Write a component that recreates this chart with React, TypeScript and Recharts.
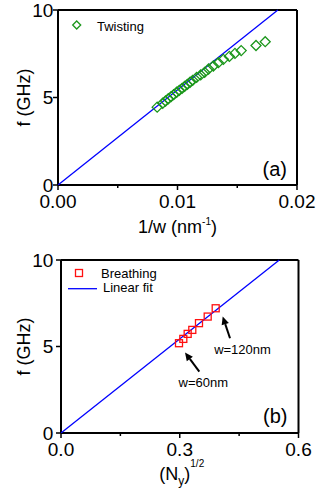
import React from 'react';
import { ScatterChart, Scatter, XAxis, YAxis, ReferenceLine, Legend } from 'recharts';

const FONT = '"Liberation Sans", Arial, Helvetica, sans-serif';
const GREEN = '#1a961a';
const RED = '#ff1010';
const BLUE = '#0000ff';

// panel (a): twisting mode, f vs 1/w
const twistInvW = [
  0.0083, 0.00876, 0.009, 0.00923, 0.00946, 0.00968, 0.00993, 0.01015, 0.01038, 0.0106, 0.01082,
  0.01105, 0.01127, 0.0116, 0.01194, 0.01227, 0.0126, 0.013, 0.01342, 0.01384, 0.01434, 0.01481,
  0.01533, 0.01657, 0.01734,
];
const twistFreq = [
  4.45, 4.67, 4.8, 4.93, 5.05, 5.16, 5.3, 5.41, 5.52, 5.64, 5.75, 5.87, 5.98, 6.15, 6.29, 6.44,
  6.63, 6.8, 6.99, 7.18, 7.35, 7.52, 7.68, 7.97, 8.19,
];
const fitAx = [0, 0.0184];
const fitAy = [0, 10];

// panel (b): breathing mode, f vs sqrt(Ny)
const breathSqrtNy = [0.2981, 0.309, 0.32, 0.3317, 0.3486, 0.3706, 0.3908];
const breathFreq = [5.19, 5.44, 5.73, 5.96, 6.35, 6.73, 7.21];
const fitBx = [0, 0.5515];
const fitBy = [0, 10];

const ticksA = [0, 0.005, 0.01, 0.015, 0.02];
const labelsA = [0, 0.01, 0.02];
const ticksB = [0, 0.15, 0.3, 0.45, 0.6];
const labelsB = [0, 0.3, 0.6];
const fTicks = [0, 2.5, 5, 7.5, 10];
const fLabels = [0, 5, 10];

const arrowsB = [
  { tail: { x: 0.3494, y: 3.55 }, head: { x: 0.3133, y: 4.65 }, text: 'w=60nm', dx: 4, dy: 15 },
  { tail: { x: 0.427, y: 5.48 }, head: { x: 0.4085, y: 6.73 }, text: 'w=120nm', dx: 12.5, dy: 15.7 },
];

const toPts = (xs: number[], ys: number[]) => xs.map((x, i) => ({ x, y: ys[i] }));

type Side = 'bottom' | 'left' | 'top' | 'right';

const tickRenderer = (side: Side, labels: number[], digits: number, gap = 5) => (props: any) => {
  const { x, y, payload } = props;
  const v = payload.value;
  const major = labels.includes(v);
  const len = major ? 5 : 3;
  const txt = { fontFamily: FONT, fontSize: 19, fill: '#000' };
  if (side === 'bottom') {
    return (
      <g>
        <line x1={x} y1={y} x2={x} y2={y + len} stroke="#000" strokeWidth={1.5} />
        {major && (
          <text x={x} y={y + 22.5} textAnchor="middle" {...txt}>
            {v.toFixed(digits)}
          </text>
        )}
      </g>
    );
  }
  if (side === 'left') {
    return (
      <g>
        <line x1={x} y1={y} x2={x - len} y2={y} stroke="#000" strokeWidth={1.5} />
        {major && (
          <text x={x - gap} y={y + 6.5} textAnchor="end" {...txt}>
            {v.toFixed(digits)}
          </text>
        )}
      </g>
    );
  }
  if (side === 'top') {
    return <line x1={x} y1={y} x2={x} y2={y + len} stroke="#000" strokeWidth={1.5} />;
  }
  return <line x1={x} y1={y} x2={x - len} y2={y} stroke="#000" strokeWidth={1.5} />;
};

const Diamond = (p: any) => (
  <path
    d={`M${p.cx},${p.cy - 5}L${p.cx + 5},${p.cy}L${p.cx},${p.cy + 5}L${p.cx - 5},${p.cy}Z`}
    fill="none"
    stroke={GREEN}
    strokeWidth={1.3}
  />
);

const Square = (p: any) => (
  <rect x={p.cx - 3.5} y={p.cy - 3.5} width={7} height={7} fill="none" stroke={RED} strokeWidth={1.3} />
);

const NoDot = () => <g />;

const yTitle = (props: any) => {
  const { viewBox } = props;
  const cy = viewBox.y + viewBox.height / 2;
  return (
    <text x={30} y={cy} transform={`rotate(-90 30 ${cy})`} textAnchor="middle" fontFamily={FONT} fontSize={18}>
      f (GHz)
    </text>
  );
};

const panelTag = (tag: string, dx: number, dy: number) => (props: any) => {
  const { viewBox } = props;
  return (
    <text x={viewBox.x - dx} y={viewBox.y + viewBox.height - dy} textAnchor="end" fontFamily={FONT} fontSize={20}>
      {tag}
    </text>
  );
};

const arrowShape = (text: string, dx: number, dy: number) => (p: any) => {
  const { x1, y1, x2, y2 } = p;
  const a = Math.atan2(y2 - y1, x2 - x1);
  const c = Math.cos(a);
  const s = Math.sin(a);
  const bx = x2 - 8 * c;
  const by = y2 - 8 * s;
  return (
    <g>
      <line x1={x1} y1={y1} x2={bx} y2={by} stroke="#000" strokeWidth={2} />
      <polygon points={`${x2},${y2} ${bx - 3.8 * s},${by + 3.8 * c} ${bx + 3.8 * s},${by - 3.8 * c}`} fill="#000" />
      <text x={x1 + dx} y={y1 + dy} textAnchor="middle" fontFamily={FONT} fontSize={13}>
        {text}
      </text>
    </g>
  );
};

const frame = { stroke: '#000', strokeWidth: 2 };

const PanelA = () => (
  <ScatterChart width={327} height={250} margin={{ top: 9, right: 29, bottom: 64, left: 57 }}>
    <XAxis
      dataKey="x"
      type="number"
      domain={[0, 0.02]}
      ticks={ticksA}
      interval={0}
      height={1}
      tickSize={0}
      tickMargin={0}
      tickLine={false}
      axisLine={frame}
      tick={tickRenderer('bottom', labelsA, 2)}
      label={(props: any) => {
        const { viewBox } = props;
        return (
          <text x={viewBox.x + viewBox.width / 2} y={viewBox.y + 48} textAnchor="middle" fontFamily={FONT} fontSize={18}>
            1/w (nm
            <tspan fontSize={10} dy={-8}>-1</tspan>
            <tspan dy={8}>)</tspan>
          </text>
        );
      }}
    />
    <XAxis
      xAxisId="top"
      orientation="top"
      type="number"
      domain={[0, 0.02]}
      ticks={ticksA}
      interval={0}
      height={1}
      tickSize={0}
      tickMargin={0}
      tickLine={false}
      axisLine={frame}
      tick={tickRenderer('top', labelsA, 2)}
    />
    <YAxis
      dataKey="y"
      type="number"
      domain={[0, 10]}
      ticks={fLabels}
      interval={0}
      width={1}
      tickSize={0}
      tickMargin={0}
      tickLine={false}
      axisLine={frame}
      tick={tickRenderer('left', fLabels, 0, 4.7)}
      label={yTitle}
    />
    <YAxis
      yAxisId="right"
      orientation="right"
      type="number"
      domain={[0, 10]}
      ticks={fTicks}
      interval={0}
      width={1}
      tickSize={0}
      tickMargin={0}
      tickLine={false}
      axisLine={frame}
      tick={tickRenderer('right', fLabels, 0)}
      label={panelTag('(a)', 10, 9)}
    />
    <Scatter data={toPts(fitAx, fitAy)} line={{ stroke: BLUE, strokeWidth: 1.3 }} shape={NoDot} isAnimationActive={false} />
    <Scatter data={toPts(twistInvW, twistFreq)} shape={Diamond} isAnimationActive={false} />
    <Legend
      verticalAlign="middle"
      wrapperStyle={{ left: 0, top: 0, width: 200, height: 40 }}
      content={() => (
        <svg width={200} height={40} style={{ display: 'block' }}>
          <path d="M76.7,21L80.7,25L76.7,29L72.7,25Z" fill="none" stroke={GREEN} strokeWidth={1.3} />
          <text x={97} y={30.5} fontFamily={FONT} fontSize={13}>
            Twisting
          </text>
        </svg>
      )}
    />
  </ScatterChart>
);

const PanelB = () => (
  <ScatterChart width={327} height={249} margin={{ top: 9, right: 27.5, bottom: 65, left: 60 }}>
    <XAxis
      dataKey="x"
      type="number"
      domain={[0, 0.6]}
      ticks={ticksB}
      interval={0}
      height={1}
      tickSize={0}
      tickMargin={0}
      tickLine={false}
      axisLine={frame}
      tick={tickRenderer('bottom', labelsB, 1)}
      label={(props: any) => {
        const { viewBox } = props;
        return (
          <text x={viewBox.x + viewBox.width / 2 + 2} y={viewBox.y + 47} textAnchor="middle" fontFamily={FONT} fontSize={18}>
            (N
            <tspan fontSize={12} dy={5}>y</tspan>
            <tspan dy={-5}>)</tspan>
            <tspan fontSize={10} dy={-13}>1/2</tspan>
          </text>
        );
      }}
    />
    <XAxis
      xAxisId="top"
      orientation="top"
      type="number"
      domain={[0, 0.6]}
      ticks={ticksB}
      interval={0}
      height={1}
      tickSize={0}
      tickMargin={0}
      tickLine={false}
      axisLine={frame}
      tick={tickRenderer('top', labelsB, 1)}
    />
    <YAxis
      dataKey="y"
      type="number"
      domain={[0, 10]}
      ticks={fLabels}
      interval={0}
      width={1}
      tickSize={0}
      tickMargin={0}
      tickLine={false}
      axisLine={frame}
      tick={tickRenderer('left', fLabels, 0, 7.7)}
      label={yTitle}
    />
    <YAxis
      yAxisId="right"
      orientation="right"
      type="number"
      domain={[0, 10]}
      ticks={fTicks}
      interval={0}
      width={1}
      tickSize={0}
      tickMargin={0}
      tickLine={false}
      axisLine={frame}
      tick={tickRenderer('right', fLabels, 0)}
      label={panelTag('(b)', 11, 10)}
    />
    <Scatter data={toPts(fitBx, fitBy)} line={{ stroke: BLUE, strokeWidth: 1.3 }} shape={NoDot} isAnimationActive={false} />
    <Scatter data={toPts(breathSqrtNy, breathFreq)} shape={Square} isAnimationActive={false} />
    {arrowsB.map((a) => (
      <ReferenceLine
        key={a.text}
        segment={[a.tail, a.head]}
        shape={arrowShape(a.text, a.dx, a.dy)}
      />
    ))}
    <Legend
      verticalAlign="middle"
      wrapperStyle={{ left: 0, top: 0, width: 200, height: 50 }}
      content={() => (
        <svg width={200} height={50} style={{ display: 'block' }}>
          <rect x={75.5} y={19.5} width={7} height={7} fill="none" stroke={RED} strokeWidth={1.3} />
          <text x={101} y={27.5} fontFamily={FONT} fontSize={13}>
            Breathing
          </text>
          <line x1={68} y1={38.7} x2={97} y2={38.7} stroke={BLUE} strokeWidth={1.3} />
          <text x={103} y={41.7} fontFamily={FONT} fontSize={13}>
            Linear fit
          </text>
        </svg>
      )}
    />
  </ScatterChart>
);

export default function App() {
  return (
    <div style={{ position: 'absolute', left: 0, top: 0, width: 327, height: 499, background: '#fff' }}>
      <div style={{ position: 'absolute', left: 0, top: 0 }}>
        <PanelA />
      </div>
      <div style={{ position: 'absolute', left: 0, top: 250 }}>
        <PanelB />
      </div>
    </div>
  );
}
